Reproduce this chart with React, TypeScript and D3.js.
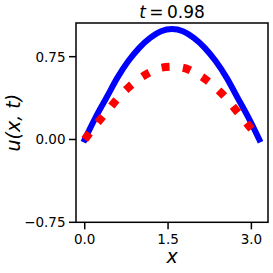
import React, { useEffect, useRef } from "react";
import * as d3 from "d3";

// x samples (0..pi) and values
const xs = [0, 0.196, 0.393, 0.589, 0.785, 0.982, 1.178, 1.374, 1.571, 1.767, 1.963, 2.16, 2.356, 2.553, 2.749, 2.945, 3.1416];
const exact = [0, 0.2, 0.38, 0.56, 0.71, 0.83, 0.92, 0.98, 1.0, 0.98, 0.92, 0.83, 0.71, 0.56, 0.38, 0.2, 0];
const approx = [0, 0.13, 0.25, 0.37, 0.47, 0.55, 0.61, 0.65, 0.66, 0.65, 0.61, 0.55, 0.47, 0.37, 0.25, 0.13, 0];

const xTicks = [0, 1.5, 3.0];
const xTickLabels = ["0.0", "1.5", "3.0"];
const yTicks = [-0.75, 0, 0.75];
const yTickLabels = ["\u22120.75", "0.00", "0.75"];

export default function App() {
  const svgRef = useRef(null);

  useEffect(() => {
    const svg = d3.select(svgRef.current);
    svg.selectAll("*").remove();
    const font = "DejaVu Sans";
    const left = 76, right = 268, top = 23, bottom = 222.3;

    const x = d3.scaleLinear().domain([-0.157, 3.299]).range([left, right]);
    const y = d3.scaleLinear().domain([-0.75, 1.055]).range([bottom, top]);

    const line = d3
      .line()
      .x((d) => x(d[0]))
      .y((d) => y(d[1]))
      .curve(d3.curveMonotoneX);

    const clip = svg.append("clipPath").attr("id", "plotclip");
    clip.append("rect").attr("x", left).attr("y", top).attr("width", right - left).attr("height", bottom - top);

    const plot = svg.append("g").attr("clip-path", "url(#plotclip)");

    plot
      .append("path")
      .attr("d", line(xs.map((v, i) => [v, exact[i]])))
      .attr("fill", "none")
      .attr("stroke", "#0000ff")
      .attr("stroke-width", 6)
      .attr("stroke-linecap", "square");

    plot
      .append("path")
      .attr("d", line(xs.map((v, i) => [v, approx[i]])))
      .attr("fill", "none")
      .attr("stroke", "#ff0000")
      .attr("stroke-width", 8)
      .attr("stroke-dasharray", "8,13.4");

    // frame
    svg
      .append("rect")
      .attr("x", left)
      .attr("y", top)
      .attr("width", right - left)
      .attr("height", bottom - top)
      .attr("fill", "none")
      .attr("stroke", "#000")
      .attr("stroke-width", 1.5);

    // x ticks
    xTicks.forEach((t, i) => {
      svg
        .append("line")
        .attr("x1", x(t))
        .attr("x2", x(t))
        .attr("y1", bottom)
        .attr("y2", bottom + 7)
        .attr("stroke", "#000")
        .attr("stroke-width", 1.5);
      svg
        .append("text")
        .attr("x", x(t))
        .attr("y", 243.5)
        .attr("text-anchor", "middle")
        .style("font-family", font)
        .style("font-size", "13.5px")
        .text(xTickLabels[i]);
    });

    // y ticks
    yTicks.forEach((t, i) => {
      svg
        .append("line")
        .attr("x1", left - 7)
        .attr("x2", left)
        .attr("y1", y(t))
        .attr("y2", y(t))
        .attr("stroke", "#000")
        .attr("stroke-width", 1.5);
      svg
        .append("text")
        .attr("x", left - 10.5)
        .attr("y", y(t) + 5)
        .attr("text-anchor", "end")
        .style("font-family", font)
        .style("font-size", "13.5px")
        .text(yTickLabels[i]);
    });

    // x label
    svg
      .append("text")
      .attr("x", (left + right) / 2)
      .attr("y", 263)
      .attr("text-anchor", "middle")
      .style("font-family", font)
      .style("font-style", "italic")
      .style("font-size", "19px")
      .text("x");

    // y label
    svg
      .append("text")
      .attr("transform", `translate(19.5,${(top + bottom) / 2}) rotate(-90)`)
      .attr("text-anchor", "middle")
      .style("font-family", font)
      .style("font-style", "italic")
      .style("font-size", "19px")
      .text("u(x, t)");

    // title
    const title = svg
      .append("text")
      .attr("x", (left + right) / 2)
      .attr("y", 17.5)
      .attr("text-anchor", "middle")
      .style("font-family", font)
      .style("font-size", "17px");
    title.append("tspan").style("font-style", "italic").text("t");
    title.append("tspan").text("\u2009=\u20090.98");
  }, []);

  return (
    <div>
      <svg
        ref={svgRef}
        width={273}
        height={273}
        style={{ position: "absolute", left: 0, top: 0, background: "#fff" }}
      ></svg>
    </div>
  );
}
